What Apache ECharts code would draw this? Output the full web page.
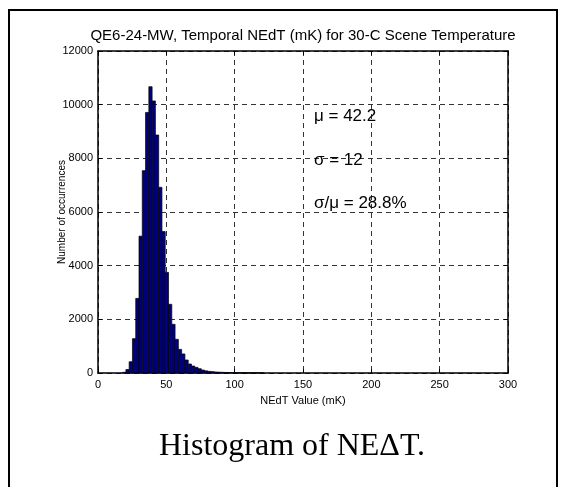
<!DOCTYPE html>
<html>
<head>
<meta charset="utf-8">
<script src="https://cdn.jsdelivr.net/npm/echarts@6/dist/echarts.min.js"></script>
<style>
html, body { margin: 0; padding: 0; background: #fff; }
#chart { width: 570px; height: 487px; }
</style>
</head>
<body>
<div id="chart"></div>
<script>
// histogram bins (mK), left edges + counts
var binWidth = 2.4;
var binLeft = [18.0, 20.4, 22.8, 25.2, 27.6, 30.0, 32.4, 34.8, 37.2, 39.6,
    42.0, 44.4, 46.8, 49.2, 51.6, 54.0, 56.4, 58.8, 61.2, 63.6,
    66.0, 68.4, 70.8, 73.2, 75.6, 78.0, 80.4, 82.8, 85.2, 87.6,
    90.0, 92.4, 94.8, 97.2, 99.6, 102.0, 104.4, 106.8, 109.2, 111.6,
    114.0, 116.4, 118.8];
var counts = [25, 130, 420, 1280, 2780, 5100, 7540, 9710, 10670, 10140,
    8870, 6920, 5270, 3750, 2560, 1815, 1255, 880, 710, 485,
    335, 260, 210, 160, 110, 80, 60, 50, 38, 30,
    25, 20, 18, 15, 12, 10, 10, 8, 8, 6,
    6, 5, 4];
var xTicks = [0, 50, 100, 150, 200, 250, 300];
var yTicks = [0, 2000, 4000, 6000, 8000, 10000, 12000];

var stats = ['\u03bc = 42.2', '\u03c3 = 12', '\u03c3/\u03bc = 28.8%'];

var chart = echarts.init(document.getElementById('chart'));

var histData = [];
for (var i = 0; i < counts.length; i++) {
    histData.push([binLeft[i], counts[i]]);
}

var gridLine = { show: true, lineStyle: { color: '#000', type: [5, 4], width: 0.8 } };
// onZero off, otherwise the top/right box axes snap onto the zero line
var axisLine = { show: true, onZero: false, lineStyle: { color: '#000', width: 1.5 } };
var tick = { show: true, inside: true, length: 4, lineStyle: { color: '#000' } };
var lbl = { fontFamily: 'Liberation Sans', fontSize: 11, color: '#000' };

chart.setOption({
    animation: false,
    grid: { left: 98, right: 62, top: 51, bottom: 114 },
    xAxis: [
        {
            type: 'value', min: xTicks[0], max: xTicks[xTicks.length - 1], interval: 50,
            name: 'NEdT Value (mK)', nameLocation: 'middle', nameGap: 22, nameMoveOverlap: false,
            nameTextStyle: lbl,
            axisLine: axisLine, axisTick: tick, splitLine: gridLine,
            axisLabel: Object.assign({ margin: 6, formatter: function (v) { return String(v); } }, lbl)
        },
        {
            type: 'value', position: 'top', min: 0, max: 300, interval: 50,
            axisLine: axisLine, axisTick: tick, splitLine: { show: false },
            axisLabel: { show: false }
        }
    ],
    yAxis: [
        {
            type: 'value', min: yTicks[0], max: yTicks[yTicks.length - 1], interval: 2000,
            name: 'Number of occurrences', nameLocation: 'middle', nameGap: 31, nameMoveOverlap: false,
            nameTextStyle: { fontFamily: 'Liberation Sans', fontSize: 10, color: '#000' },
            axisLine: axisLine, axisTick: tick, splitLine: gridLine,
            axisLabel: Object.assign({ margin: 5, formatter: function (v) { return String(v); } }, lbl)
        },
        {
            type: 'value', position: 'right', min: 0, max: 12000, interval: 2000,
            axisLine: axisLine, axisTick: tick, splitLine: { show: false },
            axisLabel: { show: false }
        }
    ],
    series: [{
        type: 'custom',
        xAxisIndex: 0, yAxisIndex: 0,
        data: histData,
        renderItem: function (params, api) {
            var x0 = api.value(0);
            var p0 = api.coord([x0, api.value(1)]);
            var p1 = api.coord([x0 + binWidth, 0]);
            return {
                type: 'rect',
                shape: { x: p0[0], y: p0[1], width: p1[0] - p0[0], height: p1[1] - p0[1] },
                style: { fill: '#00007f', stroke: '#000', lineWidth: 0.7 }
            };
        },
        z: 1
    }],
    graphic: [
        {
            type: 'polyline',
            shape: { points: [[9, 487], [9, 10], [557, 10], [557, 487]] },
            style: { stroke: '#000', lineWidth: 2, fill: null }
        },
        {
            type: 'text', x: 303, y: 36,
            style: { text: 'QE6-24-MW, Temporal NEdT (mK) for 30-C Scene Temperature',
                font: '15px "Liberation Sans"', fill: '#000', textAlign: 'center', textVerticalAlign: 'middle' }
        },
        {
            type: 'text', x: 314, y: 116,
            style: { text: stats[0], font: '17px "Liberation Sans"', fill: '#000', textVerticalAlign: 'middle' }
        },
        {
            type: 'text', x: 314, y: 160,
            style: { text: stats[1], font: '17px "Liberation Sans"', fill: '#000', textVerticalAlign: 'middle' }
        },
        {
            type: 'text', x: 314, y: 203,
            style: { text: stats[2], font: '17px "Liberation Sans"', fill: '#000', textVerticalAlign: 'middle' }
        },
        {
            type: 'text', x: 292, y: 447,
            style: { text: 'Histogram of NE\u0394T.', font: '32px "Liberation Serif"', fill: '#000',
                textAlign: 'center', textVerticalAlign: 'middle' }
        }
    ]
});
</script>
</body>
</html>
